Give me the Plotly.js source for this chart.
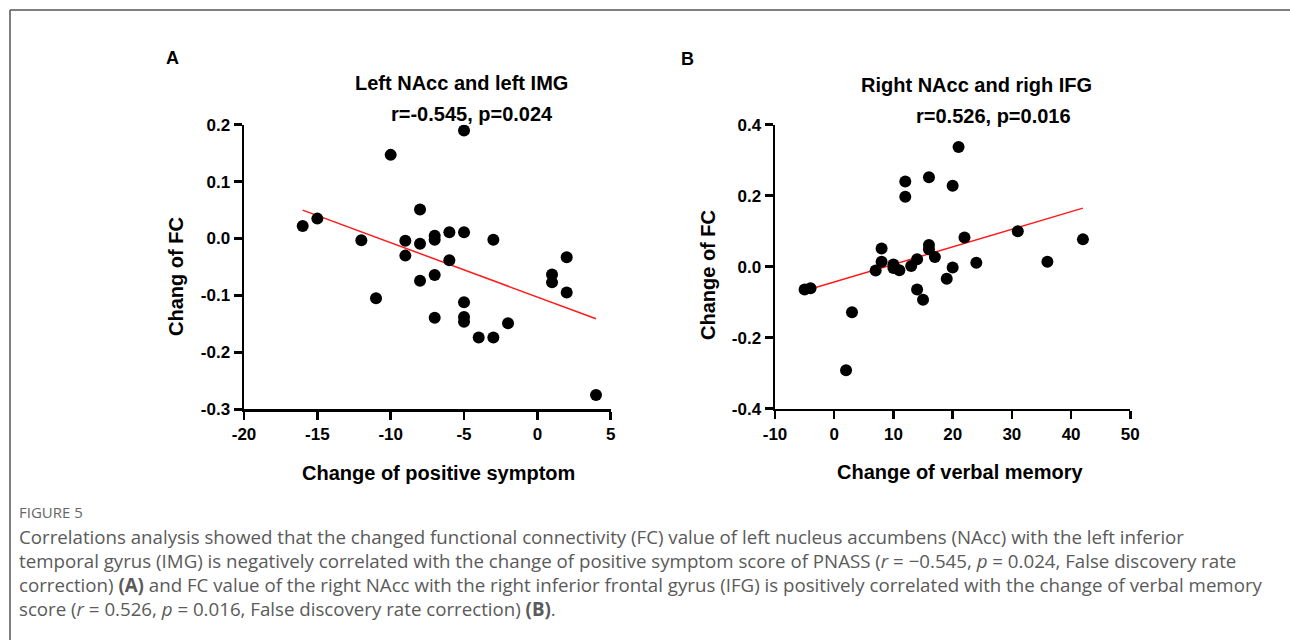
<!DOCTYPE html>
<html>
<head>
<meta charset="utf-8">
<script src="https://cdn.plot.ly/plotly-3.0.1.min.js"></script>
<style>html,body{margin:0;padding:0;background:#fff;}#chart{width:1290px;height:640px;}</style>
</head>
<body>
<div id="chart"></div>
<script>
// Panel A: change of positive symptom vs change of FC (left NAcc - left IMG)
const posSymptom = [-16, -15, -12, -11, -10, -9, -9, -8, -8, -8, -7, -7, -7, -7, -6, -6, -5, -5, -5, -5, -5, -4, -3, -3, -2, 1, 1, 2, 2, 4];
const fcA = [0.022, 0.035, -0.003, -0.105, 0.147, -0.004, -0.030, 0.051, -0.009, -0.074, 0.005, -0.002, -0.064, -0.139, 0.011, -0.038, 0.190, 0.011, -0.112, -0.138, -0.146, -0.174, -0.174, -0.002, -0.149, -0.063, -0.077, -0.033, -0.095, -0.275];
const fitAx = [-16, 4];
const fitAy = [0.050, -0.141];

// Panel B: change of verbal memory vs change of FC (right NAcc - right IFG)
const verbalMemory = [-5, -4, 2, 3, 7, 8, 8, 10, 10, 11, 12, 12, 13, 14, 14, 15, 16, 16, 16, 17, 19, 20, 20, 21, 22, 24, 31, 36, 42];
const fcB = [-0.064, -0.061, -0.292, -0.128, -0.011, 0.051, 0.014, 0.006, -0.004, -0.010, 0.240, 0.197, 0.002, 0.021, -0.064, -0.093, 0.252, 0.061, 0.049, 0.027, -0.034, 0.228, -0.002, 0.337, 0.082, 0.011, 0.100, 0.014, 0.077];
const fitBx = [-4, 42];
const fitBy = [-0.063, 0.165];

// Tick labels
const xTicksA = [-20, -15, -10, -5, 0, 5];
const xTickTextA = ["-20", "-15", "-10", "-5", "0", "5"];
const yTicksA = [-0.3, -0.2, -0.1, 0.0, 0.1, 0.2];
const yTickTextA = ["-0.3", "-0.2", "-0.1", "0.0", "0.1", "0.2"];
const xTicksB = [-10, 0, 10, 20, 30, 40, 50];
const xTickTextB = ["-10", "0", "10", "20", "30", "40", "50"];
const yTicksB = [-0.4, -0.2, 0.0, 0.2, 0.4];
const yTickTextB = ["-0.4", "-0.2", "0.0", "0.2", "0.4"];

const W = 1290, H = 640;
const px = x => x / W;
const py = y => 1 - y / H;

const tickFont = {family: "Liberation Sans, Arial, sans-serif", size: 17, color: "#000", weight: "bold"};
const markerStyle = {color: "#000", size: 12};
const fitStyle = {color: "#ff1a1a", width: 1.5};

const traces = [
  {x: fitAx, y: fitAy, mode: "lines", line: fitStyle, xaxis: "x", yaxis: "y", hoverinfo: "skip"},
  {x: posSymptom, y: fcA, mode: "markers", marker: markerStyle, xaxis: "x", yaxis: "y"},
  {x: fitBx, y: fitBy, mode: "lines", line: fitStyle, xaxis: "x2", yaxis: "y2", hoverinfo: "skip"},
  {x: verbalMemory, y: fcB, mode: "markers", marker: markerStyle, xaxis: "x2", yaxis: "y2"}
];

function axisBase(extra) {
  return Object.assign({
    showline: true, linecolor: "#000", linewidth: 2.5,
    ticks: "outside", ticklen: 8, tickwidth: 2.5, tickcolor: "#000",
    showgrid: false, zeroline: false, tickmode: "array",
    tickfont: tickFont, fixedrange: true
  }, extra);
}

const ann = (text, x, y, size, opts) => Object.assign({
  text: text, x: px(x), y: py(y), xref: "paper", yref: "paper",
  showarrow: false, xanchor: "center", yanchor: "middle",
  font: {family: "Liberation Sans, Arial, sans-serif", size: size, color: "#000", weight: "bold"}
}, opts || {});

const capFont = {family: "Open Sans, sans-serif", size: 18.7, color: "#5a5a5a"};
const cap = (text, y) => ({
  text: text, x: px(17), y: py(y), xref: "paper", yref: "paper",
  showarrow: false, xanchor: "left", yanchor: "middle", align: "left", font: capFont
});

const layout = {
  width: W, height: H,
  margin: {l: 0, r: 0, t: 0, b: 0},
  paper_bgcolor: "#fff", plot_bgcolor: "rgba(0,0,0,0)",
  showlegend: false,
  xaxis: axisBase({domain: [px(244), px(610.7)], range: [-20, 5], tickvals: xTicksA, ticktext: xTickTextA, anchor: "y"}),
  yaxis: axisBase({domain: [py(409.3), py(124.7)], range: [-0.3, 0.2], tickvals: yTicksA, ticktext: yTickTextA, anchor: "x"}),
  xaxis2: axisBase({domain: [px(775), px(1130.3)], range: [-10, 50], tickvals: xTicksB, ticktext: xTickTextB, anchor: "y2"}),
  yaxis2: axisBase({domain: [py(408.7), py(124.7)], range: [-0.4, 0.4], tickvals: yTicksB, ticktext: yTickTextB, anchor: "x2"}),
  annotations: [
    ann("A", 172, 58, 18),
    ann("B", 687, 59, 18),
    ann("Left NAcc and left IMG", 461, 83, 20),
    ann("r=-0.545, p=0.024", 471.5, 114, 20),
    ann("Right NAcc and righ IFG", 976, 85, 20),
    ann("r=0.526, p=0.016", 993, 116, 20),
    ann("Change of positive symptom", 438, 473, 20),
    ann("Change of verbal memory", 960, 472, 20),
    ann("Chang of FC", 176, 277, 20, {textangle: -90}),
    ann("Change of FC", 708, 275, 20, {textangle: -90}),
    {text: "FIGURE 5", x: px(17), y: py(512), xref: "paper", yref: "paper", showarrow: false,
     xanchor: "left", yanchor: "middle", font: {family: "Open Sans, sans-serif", size: 15, color: "#666"}},
    cap("Correlations analysis showed that the changed functional connectivity (FC) value of left nucleus accumbens (NAcc) with the left inferior", 536),
    cap("temporal gyrus (IMG) is negatively correlated with the change of positive symptom score of PNASS (<i>r</i> = −0.545, <i>p</i> = 0.024, False discovery rate", 560),
    cap("correction) <b>(A)</b> and FC value of the right NAcc with the right inferior frontal gyrus (IFG) is positively correlated with the change of verbal memory", 584),
    cap("score (<i>r</i> = 0.526, <i>p</i> = 0.016, False discovery rate correction) <b>(B)</b>.", 608)
  ],
  shapes: [
    {type: "line", xref: "paper", yref: "paper", x0: px(10), x1: 1, y0: py(10), y1: py(10), line: {color: "#555", width: 1.5}},
    {type: "line", xref: "paper", yref: "paper", x0: px(10), x1: px(10), y0: py(10), y1: 0, line: {color: "#555", width: 1.5}}
  ]
};

Plotly.newPlot("chart", traces, layout, {displayModeBar: false, staticPlot: true});
</script>
</body>
</html>
